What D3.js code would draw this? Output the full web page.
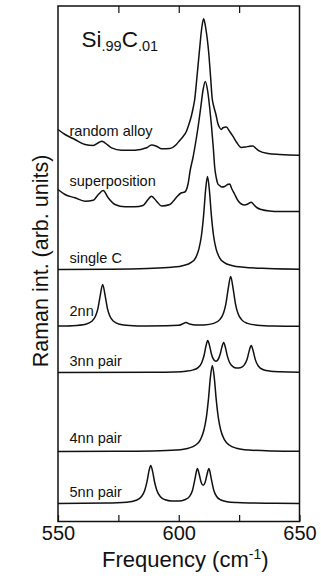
<!DOCTYPE html>
<html>
<head>
<meta charset="utf-8">
<script src="https://cdn.jsdelivr.net/npm/d3@7"></script>
<style>
  html, body { margin: 0; padding: 0; background: #fff; }
  svg { display: block; font-family: "Liberation Sans", Arial, Helvetica, sans-serif; }
</style>
</head>
<body>
<svg id="chart" width="321" height="584"></svg>
<script>
// Frequency axis
const xDomain = [550, 650];
const xTicks = [550, 575, 600, 625, 650];
const xTickLabels = [550, 600, 650];

// Spectrum names, top to bottom, and their vertical stacking offsets (arb. units)
const spectrumNames = ["random alloy", "superposition", "single C", "2nn", "3nn pair", "4nn pair", "5nn pair"];
const offsets = [366, 310, 252, 195, 149, 70, 18];

// Raman spectra: [frequency (cm-1), intensity (arb. units)]
const randomAlloy = [
  [550,26],[552.9,21],[557,16],[561.2,11],[564.6,10],[566.7,12.7],[568.2,14.3],[569.4,12.7],
  [572.2,7.7],[576.3,5.3],[581.8,5.3],[586.7,7.7],[588.7,10.5],[590.8,9.3],[592.9,6.7],[596.3,7],
  [599,11],[600.4,15],[601.8,19],[603.2,24.3],[604.3,32],[605.2,39.3],[606,48],[606.6,56],
  [607.4,75],[608.5,103],[609.5,127],[610.3,136.7],[611.2,127],[612.4,103],[613.2,78],[613.8,58],
  [614.5,49],[615.3,42],[616.2,32],[616.9,28],[617.6,26],[618.3,27.7],[619.7,28.5],[621.1,24],
  [622.4,19.3],[624,13],[625.9,8],[627.7,8.5],[629.3,9.3],[630.7,9.5],[632,7],[633.5,4.3],
  [636.9,2],[641.7,1],[649.3,0.3],[650,0.3]
];
const superposition = [
  [550,22],[552.9,17],[557,13.7],[561.2,10.3],[564.6,11.3],[566.7,17],[568.7,21],[570.8,13.7],
  [573.6,7],[577.7,4.7],[581.8,4.7],[585.2,6],[587.3,12],[588.7,15.3],[590.8,10.3],[592.9,5.5],
  [596.3,7],[597.6,10],[599,14],[601.1,18.7],[602.5,19.5],[603.8,27],[604.8,42],[605.9,54],
  [607,69],[608.1,86],[609.1,104],[610.1,122],[611,130],[612,120],[612.8,104],[613.5,87],
  [614.3,64],[614.9,44],[615.6,33],[616.2,27.5],[616.9,26],[617.8,24.5],[619,25],[620.2,27],
  [621.1,27.5],[621.9,23],[623.1,17.5],[624.5,11],[625.9,7.5],[627.3,6.5],[628.6,7.5],[630,9.3],
  [631.4,6],[632.6,3.5],[634.2,2],[637.6,0.5],[641.7,0],[650,0]
];
const singleC = [
  [550,0.1],[572,0.3],[587,1.0],[597,2.2],[602,4.0],[605,6.8],[607,11.7],[608.4,21.2],
  [609.4,34],[610.3,54.4],[611.1,79],[611.9,93],[612.7,79],[613.5,54.4],[614.4,34],[615.4,21.2],
  [616.9,11.7],[618.9,6.8],[621.9,4.0],[626.9,2.2],[636.9,1.0],[650,0.3]
];
const pair2nn = [
  [550,0.4],[556,0.8],[561.5,2.3],[564,5.2],[565.5,10.2],[566.5,17.6],[567.5,31.2],[568.5,42],
  [569.5,31.2],[570.5,17.6],[571.5,10.2],[573,5.2],[575.5,2.3],[579.5,1.1],[586.5,0.6],[595,0.7],
  [600,1.2],[601.5,2.5],[603,4],[604.5,2.5],[607,1.4],[610.5,1.6],[614.5,3.1],[617,6.9],
  [618.5,13.2],[619.5,22.4],[620.5,38.2],[621.5,50],[622.5,38.2],[623.5,22.4],[624.5,13.2],[626,6.9],
  [628.5,3.1],[632.5,1.3],[639.5,0.5],[650,0.2]
];
const pair3nn = [
  [550,0.05],[590,0.3],[598,0.6],[603,1.3],[606,2.6],[608,4.9],[609.5,9.8],[610.5,17.3],
  [611.3,26.8],[612,31.9],[612.7,27.4],[613.5,18.8],[614.5,12.7],[615.4,11.3],[616.3,13],[617.2,18.7],
  [617.9,25.8],[618.6,30],[619.3,25.3],[620.1,16.6],[621,10.3],[622.3,6.2],[624,4.5],[625.5,4.8],
  [627,7.1],[628.3,13.3],[629.2,21.9],[630,27],[630.8,21.7],[631.7,12.9],[633,6.3],[635,2.8],
  [638,1.3],[642,0.7],[650,0.3]
];
const pair4nn = [
  [550,0.1],[574,0.2],[589,0.55],[599,1.5],[604,3.3],[607,6.5],[609,11.9],[610.4,21.2],
  [611.4,33.6],[612.3,52.4],[613.1,74.1],[613.9,86],[614.7,74.1],[615.5,52.4],[616.4,33.6],[617.4,21.2],
  [618.9,11.9],[620.9,6.5],[623.9,3.3],[628.9,1.5],[638.9,0.55],[650,0.25]
];
const pair5nn = [
  [550,0.1],[570,0.46],[578.4,1.3],[582.4,3.3],[584.4,6.5],[585.9,13],[586.9,22.4],[587.7,32.9],
  [588.4,37.9],[589.1,32.9],[589.9,22.5],[590.9,13.3],[592.4,6.8],[594.4,3.7],[597,2.5],[600,2.5],
  [602.5,3.75],[604.5,7.15],[605.7,13.3],[606.7,24.4],[607.7,35],[608.5,29],[609.3,20.9],[610.1,18.2],
  [610.9,20.9],[611.7,29],[612.5,35],[613.5,24.3],[614.5,13.2],[615.7,7],[617.5,3.5],[620,1.84],
  [624,0.91],[630,0.46],[640,0.21],[650,0.12]
];

const spectra = [randomAlloy, superposition, singleC, pair2nn, pair3nn, pair4nn, pair5nn];

// ---- layout ----
const svg = d3.select("#chart");
const plot = { left: 58, right: 299.5, top: 6, bottom: 521.5 };
const yMax = plot.bottom - plot.top;   // arb. units span of the stack

const x = d3.scaleLinear().domain(xDomain).range([plot.left, plot.right]);
const y = d3.scaleLinear().domain([0, yMax]).range([plot.bottom, plot.top]);

// distance (px) from each spectrum's baseline up to its label baseline
const labelLift = [19.5, 25.5, 6.2, 10.5, 6.5, 8.2, 6.8];

const line = d3.line()
  .x(d => x(d[0]))
  .y(d => y(d[1]))
  .curve(d3.curveMonotoneX);

// spectra
spectra.forEach((s, i) => {
  svg.append("path")
    .datum(s.map(d => [d[0], d[1] + offsets[i]]))
    .attr("d", line)
    .attr("fill", "none")
    .attr("stroke", "#111")
    .attr("stroke-width", 1.5)
    .attr("stroke-linejoin", "round");
});

// spectrum labels
spectrumNames.forEach((name, i) => {
  svg.append("text")
    .attr("x", 69.5)
    .attr("y", y(offsets[i]) - labelLift[i])
    .attr("font-size", 14.5)
    .attr("fill", "#111")
    .text(name);
});

// frame
svg.append("rect")
  .attr("x", plot.left).attr("y", plot.top)
  .attr("width", plot.right - plot.left).attr("height", plot.bottom - plot.top)
  .attr("fill", "none").attr("stroke", "#111").attr("stroke-width", 1.5);

// bottom axis: ticks point inward
const bottomAxis = d3.axisBottom(x)
  .tickValues(xTicks)
  .tickSizeInner(-6.5)
  .tickSizeOuter(0)
  .tickFormat(d => xTickLabels.includes(d) ? d : "");
const gb = svg.append("g").attr("transform", `translate(0,${plot.bottom})`).call(bottomAxis);
gb.select(".domain").remove();
gb.selectAll(".tick line").attr("stroke", "#111").attr("stroke-width", 1.2);
gb.selectAll(".tick text")
  .attr("font-family", "Liberation Sans, Arial, sans-serif")
  .attr("font-size", 20)
  .attr("fill", "#111")
  .attr("y", 18)
  .attr("dy", 0);

// top axis: interior ticks only, pointing inward
const topAxis = d3.axisTop(x)
  .tickValues(xTicks.slice(1, -1))
  .tickSizeInner(-7)
  .tickSizeOuter(0)
  .tickFormat("");
const gt = svg.append("g").attr("transform", `translate(0,${plot.top})`).call(topAxis);
gt.select(".domain").remove();
gt.selectAll(".tick line").attr("stroke", "#111").attr("stroke-width", 1.2);

// x-axis title
const xt = svg.append("text")
  .attr("x", 102).attr("y", 567)
  .attr("font-size", 22).attr("fill", "#111");
xt.append("tspan").text("Frequency  (cm");
xt.append("tspan").attr("font-size", 14).attr("dy", -8).text("-1");
xt.append("tspan").attr("dy", 8).text(")");

// y-axis title
svg.append("text")
  .attr("transform", "translate(48,261) rotate(-90)")
  .attr("text-anchor", "middle")
  .attr("font-size", 21.5).attr("fill", "#111")
  .text("Raman int. (arb. units)");

// composition label
const title = svg.append("text")
  .attr("x", 81.5).attr("y", 46.7)
  .attr("font-size", 22.5).attr("fill", "#111");
title.append("tspan").text("Si");
title.append("tspan").attr("font-size", 14.5).attr("dy", 4).text(".99");
title.append("tspan").attr("dy", -4).text("C");
title.append("tspan").attr("font-size", 14.5).attr("dy", 4).text(".01");
</script>
</body>
</html>
